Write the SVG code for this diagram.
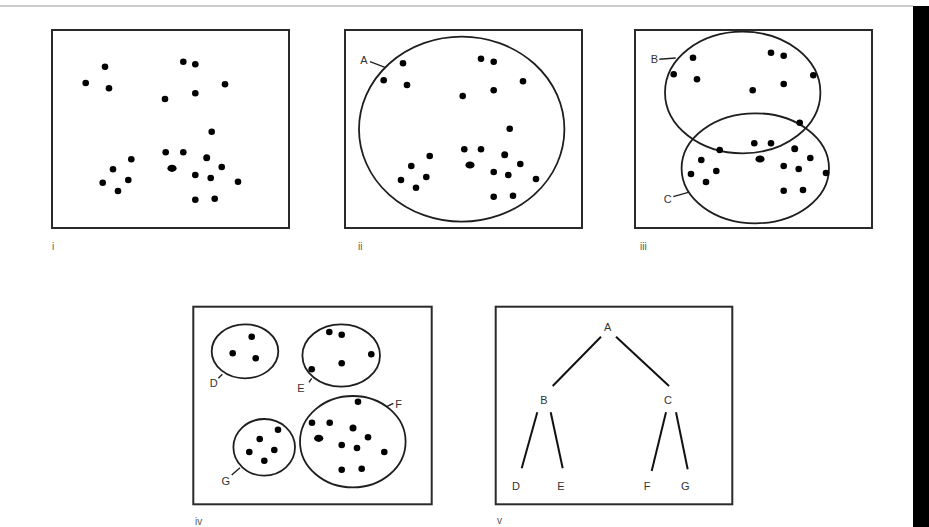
<svg xmlns="http://www.w3.org/2000/svg" width="929" height="527" viewBox="0 0 929 527">
<style>
.box{fill:none;stroke:#2a2a2a;stroke-width:2}
.ring{fill:none;stroke:#1e1e1e;stroke-width:1.8}
.dot{fill:#000}
.lbl{font-family:"Liberation Sans",Arial,sans-serif;font-size:11px;fill:#333;text-anchor:middle}
.num{font-family:"Liberation Sans",Arial,sans-serif;font-size:10px;fill:#555}
.ln{stroke:#111;stroke-width:2;fill:none}
.ld{stroke:#222;stroke-width:1.4;fill:none}
</style>
<defs>
<g id="pat">
<circle cx="0" cy="0" r="3.3"/>
</g>
</defs>
<rect x="0" y="0" width="929" height="527" fill="#fff"/>
<line x1="0" y1="6" x2="913" y2="6" stroke="#999" stroke-width="1"/>
<rect x="913" y="6" width="16" height="521" fill="#000"/>

<!-- Panel i -->
<g id="panel-i">
<rect class="box" x="52" y="30" width="237" height="198"/>
<g class="dot">
<circle cx="105" cy="66.7" r="3.3"/><circle cx="85.7" cy="83" r="3.3"/><circle cx="109" cy="88.3" r="3.3"/>
<circle cx="183.3" cy="61.7" r="3.3"/><circle cx="195.3" cy="64.3" r="3.3"/><circle cx="225" cy="84.3" r="3.3"/>
<circle cx="195.3" cy="93.3" r="3.3"/><circle cx="165" cy="99" r="3.3"/><circle cx="211.7" cy="131.7" r="3.3"/>
<circle cx="165.7" cy="152.3" r="3.3"/><circle cx="183.3" cy="152.3" r="3.3"/><circle cx="206.7" cy="157.7" r="3.5"/>
<ellipse cx="172" cy="168.3" rx="4.6" ry="3.6"/><circle cx="221.7" cy="167" r="3.3"/><circle cx="195.3" cy="175" r="3.3"/>
<circle cx="210.7" cy="178" r="3.3"/><circle cx="238" cy="181.7" r="3.3"/><circle cx="195.3" cy="199.7" r="3.3"/>
<circle cx="214.7" cy="198.7" r="3.3"/><circle cx="131.3" cy="159.3" r="3.3"/><circle cx="113" cy="169.3" r="3.3"/>
<circle cx="128.3" cy="180" r="3.3"/><circle cx="102.7" cy="182.7" r="3.3"/><circle cx="118" cy="191" r="3.3"/>
</g>
<text class="num" x="52" y="250">i</text>
</g>

<!-- Panel ii -->
<g id="panel-ii">
<rect class="box" x="345" y="30" width="237" height="198"/>
<g id="cluster-A">
<ellipse class="ring" cx="461.7" cy="129.2" rx="102.7" ry="92.5"/>
<text class="lbl" x="364" y="64">A</text>
</g>
<g class="dot">
<circle cx="403" cy="63.3" r="3.3"/><circle cx="383.7" cy="80.3" r="3.3"/><circle cx="407" cy="85" r="3.3"/>
<circle cx="481" cy="58.7" r="3.3"/><circle cx="493.7" cy="61.7" r="3.3"/><circle cx="523" cy="81.3" r="3.3"/>
<circle cx="493.7" cy="90.3" r="3.3"/><circle cx="462.7" cy="96" r="3.3"/><circle cx="509.7" cy="128.7" r="3.3"/>
<circle cx="464.3" cy="149.3" r="3.3"/><circle cx="481" cy="149.3" r="3.3"/><circle cx="504.7" cy="154.7" r="3.5"/>
<ellipse cx="470" cy="165" rx="4.6" ry="3.6"/><circle cx="520.3" cy="164" r="3.3"/><circle cx="493.7" cy="172" r="3.3"/>
<circle cx="508.3" cy="175" r="3.3"/><circle cx="536" cy="179" r="3.3"/><circle cx="493.7" cy="196.7" r="3.3"/>
<circle cx="513" cy="195.7" r="3.3"/><circle cx="429.7" cy="156" r="3.3"/><circle cx="411.3" cy="166" r="3.3"/>
<circle cx="426.3" cy="177" r="3.3"/><circle cx="401" cy="180" r="3.3"/><circle cx="416" cy="187.7" r="3.3"/>
</g>
<text class="num" x="358" y="250">ii</text>
</g>

<!-- Panel iii -->
<g id="panel-iii">
<rect class="box" x="635" y="30" width="237" height="198"/>
<g id="cluster-B">
<ellipse class="ring" cx="742.7" cy="92.5" rx="77.7" ry="60.8"/>
<text class="lbl" x="654.3" y="63">B</text>
</g>
<g id="cluster-C">
<ellipse class="ring" cx="755.3" cy="168.3" rx="73.7" ry="55"/>
<text class="lbl" x="667.7" y="203.3">C</text>
</g>
<g class="dot">
<circle cx="693" cy="57.7" r="3.3"/><circle cx="673.7" cy="74.3" r="3.3"/><circle cx="697" cy="79.3" r="3.3"/>
<circle cx="771" cy="52.7" r="3.3"/><circle cx="783.7" cy="55.7" r="3.3"/><circle cx="813.3" cy="75.3" r="3.3"/>
<circle cx="783.7" cy="84" r="3.3"/><circle cx="752.7" cy="90.3" r="3.3"/><circle cx="799.7" cy="122.7" r="3.3"/>
<circle cx="754.3" cy="143.3" r="3.3"/><circle cx="771" cy="143.3" r="3.3"/><circle cx="794.7" cy="148.7" r="3.5"/>
<ellipse cx="760" cy="159" rx="4.6" ry="3.6"/><circle cx="810.3" cy="158" r="3.3"/><circle cx="783.7" cy="166" r="3.3"/>
<circle cx="798.7" cy="169" r="3.3"/><circle cx="826" cy="173" r="3.3"/><circle cx="783.7" cy="190.7" r="3.3"/>
<circle cx="803" cy="190" r="3.3"/><circle cx="719.7" cy="150" r="3.3"/><circle cx="701.3" cy="160" r="3.3"/>
<circle cx="716.3" cy="171" r="3.3"/><circle cx="691" cy="174" r="3.3"/><circle cx="706" cy="182" r="3.3"/>
</g>
<text class="num" x="640" y="250">iii</text>
</g>

<!-- Panel iv -->
<g id="panel-iv">
<rect class="box" x="193.3" y="306.7" width="238.4" height="197.6"/>
<g id="cluster-D">
<ellipse class="ring" cx="245" cy="351.3" rx="33.3" ry="27"/>
<g class="dot"><circle cx="251.7" cy="336.7" r="3.3"/><circle cx="232.7" cy="353.3" r="3.3"/><circle cx="255.7" cy="358.3" r="3.3"/></g>
<text class="lbl" x="213.7" y="387.3">D</text>
</g>
<g id="cluster-E">
<ellipse class="ring" cx="341.2" cy="355.5" rx="38.8" ry="31.2"/>
<g class="dot"><circle cx="329.3" cy="332" r="3.3"/><circle cx="341.7" cy="334.7" r="3.3"/><circle cx="371.3" cy="354.3" r="3.3"/><circle cx="341.7" cy="363.3" r="3.3"/><circle cx="311.7" cy="369.3" r="3.3"/></g>
<text class="lbl" x="301" y="392.3">E</text>
</g>
<g id="cluster-F">
<ellipse class="ring" cx="352.8" cy="441.7" rx="52.8" ry="45.7"/>
<g class="dot"><circle cx="358" cy="401.7" r="3.3"/><circle cx="312" cy="422.7" r="3.3"/><circle cx="329.7" cy="422.7" r="3.3"/><circle cx="353" cy="428" r="3.5"/><ellipse cx="318.7" cy="438.3" rx="4.6" ry="3.6"/><circle cx="368" cy="437.3" r="3.3"/><circle cx="341.7" cy="445" r="3.3"/><circle cx="357" cy="448" r="3.3"/><circle cx="384.3" cy="452" r="3.3"/><circle cx="341.7" cy="469.7" r="3.3"/><circle cx="361.7" cy="468.7" r="3.3"/></g>
<text class="lbl" x="398.5" y="408.3">F</text>
</g>
<g id="cluster-G">
<ellipse class="ring" cx="264.2" cy="447.3" rx="30.8" ry="28.3"/>
<g class="dot"><circle cx="278" cy="429.7" r="3.3"/><circle cx="259.7" cy="439" r="3.3"/><circle cx="249.3" cy="452" r="3.3"/><circle cx="274.3" cy="450" r="3.3"/><circle cx="264.3" cy="460.7" r="3.3"/></g>
<text class="lbl" x="225.7" y="484.7">G</text>
</g>
<text class="num" x="195" y="525">iv</text>
</g>

<!-- Panel v -->
<g id="panel-v">
<rect class="box" x="495.7" y="306.7" width="236.6" height="197.6"/>
<g id="node-A"><text class="lbl" x="607.7" y="331.3">A</text></g>
<g id="node-B"><text class="lbl" x="544" y="404.3">B</text></g>
<g id="node-C"><text class="lbl" x="668" y="404.3">C</text></g>
<g id="node-D"><text class="lbl" x="516" y="490">D</text></g>
<g id="node-E"><text class="lbl" x="561" y="490">E</text></g>
<g id="node-F"><text class="lbl" x="647" y="490">F</text></g>
<g id="node-G"><text class="lbl" x="685.3" y="490">G</text></g>
<text class="num" x="497" y="524">v</text>
</g>

<!-- Connectors -->
<g id="connectors">
<line class="ln" x1="601" y1="336.7" x2="552.7" y2="386"/>
<line class="ln" x1="616" y1="336.7" x2="669" y2="386"/>
<line class="ln" x1="537.3" y1="412.3" x2="521.7" y2="468.3"/>
<line class="ln" x1="550.7" y1="412.3" x2="562.7" y2="468.3"/>
<line class="ln" x1="666" y1="412.3" x2="651.7" y2="471"/>
<line class="ln" x1="676" y1="412.3" x2="687.7" y2="469.3"/>
<line class="ld" x1="370" y1="61.7" x2="385" y2="67.3"/>
<line class="ld" x1="659.3" y1="59.3" x2="675.7" y2="58"/>
<line class="ld" x1="673.3" y1="196.7" x2="688.3" y2="192.3"/>
<line class="ld" x1="218.3" y1="378.3" x2="222.3" y2="374.3"/>
<line class="ld" x1="309" y1="382.3" x2="311.7" y2="378.3"/>
<line class="ld" x1="386.7" y1="406.7" x2="393.3" y2="403.3"/>
<line class="ld" x1="231.7" y1="475" x2="240" y2="467.7"/>
</g>
</svg>
